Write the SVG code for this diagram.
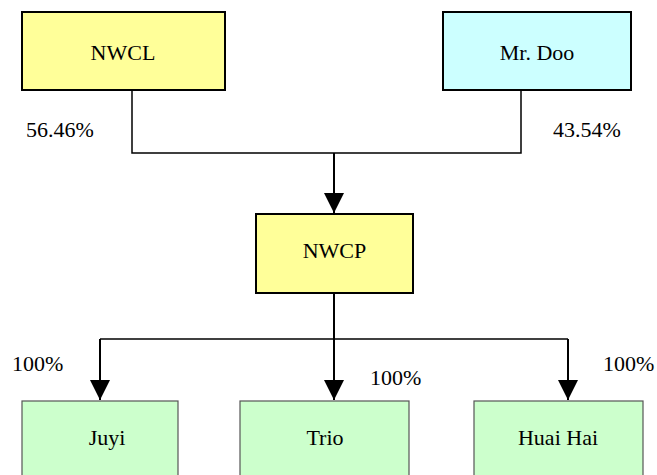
<svg xmlns="http://www.w3.org/2000/svg" width="657" height="475" viewBox="0 0 657 475">
<style>
.c{text-anchor:middle}
.box{stroke:#000;stroke-width:2}
.sub{stroke:#555;stroke-width:1.2;fill:#CCFFCC}
.ln{fill:none;stroke:#000;stroke-width:1.5}
.ar{fill:none;stroke:#000;stroke-width:2;marker-end:url(#ah)}
</style>
<defs>
<marker id="ah" markerUnits="userSpaceOnUse" markerWidth="20" markerHeight="20" viewBox="0 0 20 20" refX="20" refY="10" orient="auto">
<path d="M0,0 L20,10 L0,20 z" fill="#000"/>
</marker>
</defs>
<rect width="657" height="475" fill="#fff"/>
<g id="connectors">
<path class="ln" d="M132,90 V153 H521 V90"/>
<path class="ar" d="M334,153 V213"/>
<path class="ar" d="M334,293 V339" marker-end="none" style="marker-end:none"/>
<path class="ln" d="M100,339 H568"/>
<path class="ar" d="M100,339 V400"/>
<path class="ar" d="M334,339 V400"/>
<path class="ar" d="M568,339 V400"/>
</g>
<g id="labels">
<text x="26" y="137" font-family="Liberation Serif" font-size="22">56.46%</text>
<text x="553" y="137" font-family="Liberation Serif" font-size="22">43.54%</text>
<text x="12" y="371" font-family="Liberation Serif" font-size="22">100%</text>
<text x="370" y="385" font-family="Liberation Serif" font-size="22">100%</text>
<text x="603" y="371" font-family="Liberation Serif" font-size="22">100%</text>
</g>
<g id="nwcl">
<rect class="box" x="22" y="12" width="203" height="78" fill="#FFFF99"/>
<text class="c" x="123" y="60" font-family="Liberation Serif" font-size="22">NWCL</text>
</g>
<g id="mrdoo">
<rect class="box" x="443" y="12" width="188" height="78" fill="#CCFFFF"/>
<text class="c" x="537" y="60" font-family="Liberation Serif" font-size="22">Mr. Doo</text>
</g>
<g id="nwcp">
<rect class="box" x="256" y="214" width="157" height="79" fill="#FFFF99"/>
<text class="c" x="334.5" y="258" font-family="Liberation Serif" font-size="22">NWCP</text>
</g>
<g id="juyi">
<rect class="sub" x="22" y="401" width="156" height="80"/>
<text class="c" x="107" y="445" font-family="Liberation Serif" font-size="22">Juyi</text>
</g>
<g id="trio">
<rect class="sub" x="240" y="401" width="169" height="80"/>
<text class="c" x="325" y="445" font-family="Liberation Serif" font-size="22">Trio</text>
</g>
<g id="huaihai">
<rect class="sub" x="474" y="401" width="169" height="80"/>
<text class="c" x="558" y="445" font-family="Liberation Serif" font-size="22">Huai Hai</text>
</g>
</svg>
